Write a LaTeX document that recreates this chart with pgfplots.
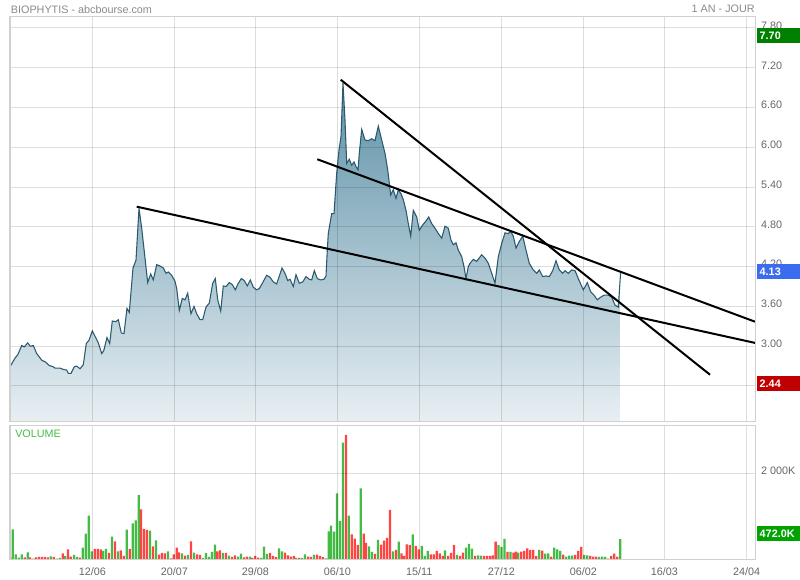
\documentclass[border=0pt]{standalone}
\usepackage{fontspec}
\setmainfont{Liberation Sans}
\usepackage{pgfplots}
\pgfplotsset{compat=1.18}
\usepackage{pgfplotstable}
\definecolor{bordc}{HTML}{D0D0D0}
\definecolor{tickc}{HTML}{666666}
\definecolor{titlec}{HTML}{8A8A8A}
\definecolor{linec}{HTML}{2B5A6F}
\definecolor{filltop}{HTML}{5E92A8}
\definecolor{fillbot}{HTML}{E8EFF3}
\definecolor{volgreen}{HTML}{44BB44}
\definecolor{volred}{HTML}{FF4444}
\definecolor{boxgreen}{HTML}{008000}
\definecolor{boxblue}{HTML}{3B6CF0}
\definecolor{boxred}{HTML}{C00000}
\definecolor{boxvol}{HTML}{00A300}

\pgfplotstableread{
x y
10 2.69
15 2.82
17.7 2.87
21.7 3.01
24.3 2.99
27.7 3.05
30.3 3.00
33.3 3.01
36.7 2.89
41.7 2.79
45.7 2.76
49 2.71
53.3 2.69
55 2.67
60 2.67
63.3 2.65
66.7 2.64
68.3 2.59
71 2.59
74.3 2.69
76.7 2.70
80 2.66
83.3 2.72
86.3 3.04
89 3.09
92.3 3.23
95.7 3.13
98.3 3.05
101.7 2.89
103.7 2.93
107 3.13
109.7 3.04
112.3 3.38
115.7 3.37
118.3 3.40
121.3 3.20
124 3.19
127 3.57
129.3 3.51
133 4.18
136 4.30
139 5.08
141.7 4.78
145 4.33
147.7 3.96
150.7 4.09
153.3 4.00
156.7 4.23
160 4.21
163.3 4.18
166 4.10
168.3 4.12
171.7 4.07
175 3.98
176.7 3.87
179.3 3.54
182.3 3.72
185 3.70
187.7 3.80
191 3.49
194 3.60
196.7 3.49
200 3.40
202.7 3.40
206 3.59
209.3 3.65
212.7 3.95
215.3 4.02
217.7 3.70
220.7 3.53
223.3 3.91
226 3.90
229.3 3.96
232.3 3.93
235.3 3.85
238.3 3.95
241.3 4.02
244.3 3.99
247.3 3.91
250.3 4.00
253.3 3.89
256.7 3.85
259.3 3.87
262.7 3.96
266.7 4.07
270 4.04
273.3 3.97
276.7 3.94
282 4.18
285 4.10
287.7 3.99
290 4.01
293.3 3.90
296 4.08
299.3 3.95
302.7 3.97
306 4.05
309.3 4.01
311.7 4.00
314.3 4.14
317.3 4.02
320.7 4.00
324 4.01
326 4.06
327.3 4.45
328.3 4.70
330 4.85
331.7 5.00
334 5.00
336.7 5.61
339 5.96
341 6.16
343 6.97
345 6.41
346.7 5.76
349.3 5.82
351.7 5.73
354 5.78
356 5.71
358 5.66
359.3 5.91
361.7 6.27
365 6.11
368.3 6.10
371.7 6.13
375 6.10
378.3 6.32
381.7 6.11
385 5.91
387.7 5.66
389.3 5.46
390.7 5.28
393.3 5.36
396 5.23
398.3 5.36
401 5.30
403.3 5.21
406 5.05
408.3 4.85
410.7 4.66
413.3 5.05
416.7 4.95
419.3 4.75
422.7 4.83
426 4.89
428.7 4.95
431.7 4.85
435 4.78
438.3 4.70
441.7 4.63
445 4.81
448.3 4.78
451 4.60
453.3 4.53
456 4.56
458.3 4.45
461.7 4.35
464 4.20
466 4.02
468.3 4.20
470 4.25
473.3 4.31
476.7 4.28
481.7 4.38
485 4.33
488.3 4.25
491.7 4.10
495 3.95
498.3 4.35
501.7 4.55
505 4.71
508.3 4.70
510.7 4.73
513.3 4.66
516 4.48
519.3 4.58
522.7 4.66
526 4.45
529.3 4.25
533.3 4.15
536.7 4.10
539.3 4.15
542.7 4.05
546 4.06
549.3 4.05
552.7 4.14
556 4.29
559.3 4.15
562.7 4.10
565 4.14
568.3 4.10
571.7 4.15
575 4.14
578.3 4.02
583.3 3.85
587.3 3.96
590.7 3.82
594 3.77
597.3 3.70
600.7 3.74
604 3.77
608.3 3.77
611.7 3.74
615 3.62
618.3 3.59
620.7 4.13
}\price

\begin{document}
\begin{tikzpicture}
\path[use as bounding box] (0pt,0pt) rectangle (600pt,-435pt);

\begin{axis}[
  at={(7.5pt,-12.75pt)}, anchor=north west,
  scale only axis, width=558.75pt, height=303.5pt,
  xmin=10, xmax=755, ymin=1.862, ymax=7.966,
  axis line style={draw=bordc, line width=0.75pt},
  xtick={92.3,174.3,255.3,337.3,419.3,501.3,583.3,664.3,746.7},
  xticklabels={},
  ytick={2.4,3.0,3.6,4.2,4.8,5.4,6.0,6.6,7.2,7.8},
  yticklabels={2.40,3.00,3.60,4.20,4.80,5.40,6.00,6.60,7.20,7.80},
  yticklabel pos=right,
  yticklabel style={anchor=west, xshift=1pt, yshift=1.8pt, text=tickc, font=\fontsize{8.1}{9.7}\selectfont},
  major tick length=0pt,
  xmajorgrids, ymajorgrids,
  major grid style={black, opacity=0.13, line width=0.75pt},
  axis on top,
  clip=true,
]
\addplot[draw=none, top color=filltop, bottom color=fillbot] table[x=x,y=y]{\price}
  -- (axis cs:620.7,1.862) -- (axis cs:10,1.862) -- cycle;
\addplot[color=linec, line width=0.8pt] table[x=x,y=y]{\price};
\addplot[black, line width=1.5pt] coordinates {(136.7,5.105) (755,3.05)};
\addplot[black, line width=1.5pt] coordinates {(317.3,5.82) (755,3.37)};
\addplot[black, line width=1.5pt] coordinates {(340.7,7.02) (710,2.57)};
\end{axis}

\begin{axis}[
  at={(7.5pt,-318.975pt)}, anchor=north west,
  scale only axis, width=558.75pt, height=100.5pt,
  xmin=10, xmax=755, ymin=0, ymax=3116,
  axis line style={draw=bordc, line width=0.75pt},
  xtick={92.3,174.3,255.3,337.3,419.3,501.3,583.3,664.3,746.7},
  xticklabels={12/06,20/07,29/08,06/10,15/11,27/12,06/02,16/03,24/04},
  xticklabel style={text=tickc, yshift=-3pt, font=\fontsize{8.1}{9.7}\selectfont},
  ytick={2000},
  yticklabels={2 000K},
  yticklabel pos=right,
  yticklabel style={anchor=west, xshift=1pt, yshift=1.8pt, text=tickc, font=\fontsize{8.1}{9.7}\selectfont},
  major tick length=0pt,
  xmajorgrids, ymajorgrids,
  major grid style={black, opacity=0.13, line width=0.75pt},
  axis on top,
]
\addplot[ybar, bar width=1.75pt, bar shift=0pt, fill=volgreen, draw=none] coordinates {
(12.7,698) (15.7,116) (18.7,39) (21.7,116) (27.7,163) (33,16) (50.7,70) (56.7,16) (59.7,31) (65.3,78) (74,101) (77,54) (82.7,271) (85.7,597) (88.7,1016) (91.7,186) (103,194) (106,240) (112,527) (118,186) (126.7,690) (132.7,837) (135.7,907) (138.7,1495) (150,667) (156,442) (168,186) (182,140) (188,101) (194,155) (203,31) (206,147) (209,54) (212,171) (215,341) (223,147) (229,85) (238,62) (241,132) (250,62) (261.3,31) (264,295) (267,124) (279,256) (282,186) (296.3,31) (302,31) (305,116) (314,101) (326,23) (328.7,651) (331,783) (334,643) (337,1535) (340,891) (343,2713) (348.7,1016) (360.7,1651) (369,302) (372,171) (378,450) (393,186) (398.7,411) (412.7,581) (421.7,310) (424.7,78) (427.7,194) (445,209) (457,101) (466,271) (469,357) (472,248) (478,93) (481,85) (498.5,333) (501.5,287) (504.5,473) (510.5,171) (518.3,155) (539.3,217) (545.3,132) (548.3,140) (554.3,271) (557.3,233) (560.3,194) (566.3,62) (569.3,85) (572.3,85) (584.3,101) (587.3,93) (599.3,54) (602.3,62) (605.3,54) (620.3,472)
};
\addplot[ybar, bar width=1.75pt, bar shift=0pt, fill=volred, draw=none] coordinates {
(10.3,47) (24.7,47) (30,47) (35.7,47) (38.7,54) (41.7,54) (44.7,54) (47.7,47) (53.7,54) (62.7,140) (68,233) (70.7,62) (79.7,39) (94.7,240) (97.7,240) (100.7,233) (109,147) (115,419) (120.7,209) (123.7,78) (129.7,240) (141,1163) (144,705) (147,682) (153,302) (159,109) (162,147) (165,140) (171,23) (173.7,116) (176.7,271) (179,163) (185,85) (191,419) (197,116) (200,101) (217.3,186) (220,209) (226,147) (232,54) (235,93) (244,47) (247,62) (252.3,31) (255.3,78) (258.3,39) (270,147) (273,78) (276,54) (285,155) (288,93) (291,62) (294,78) (299.3,31) (308,62) (311,54) (317,109) (320,78) (323,54) (346,2891) (351.7,581) (354.7,481) (357.7,333) (363.7,597) (366,380) (375,124) (381,341) (384,434) (387,496) (390,1147) (396,217) (401.5,140) (403.9,78) (406.7,349) (409.7,333) (415.7,310) (418.7,233) (430.7,116) (433.7,116) (436.7,194) (439.7,140) (442.7,78) (448,78) (451,147) (454,333) (460,78) (463,155) (475,78) (484,78) (487,78) (490,78) (492.8,93) (495.6,411) (507.5,171) (513.5,155) (516,178) (521.3,178) (524.3,194) (527.3,256) (530.3,217) (533.3,217) (536.3,78) (542.3,202) (551.3,62) (563.3,109) (575.3,101) (578.3,194) (581.3,287) (590.3,78) (593.3,62) (596.3,62) (608.3,16) (611.3,78) (614.3,132) (617.3,62)
};
\end{axis}

% header texts
\node[anchor=west, inner sep=0pt, text=titlec, font=\fontsize{8.1}{9.7}\selectfont] at (8pt,-6.9pt) {BIOPHYTIS - abcbourse.com};
\node[anchor=east, inner sep=0pt, text=titlec, font=\fontsize{8.1}{9.7}\selectfont] at (566.25pt,-6.9pt) {1 AN - JOUR};
\node[anchor=west, inner sep=0pt, text=volgreen, font=\fontsize{8.1}{9.7}\selectfont] at (11.25pt,-325.5pt) {VOLUME};

% value boxes
\fill[boxgreen] (567.75pt,-21.2pt) rectangle (600pt,-32pt);
\node[anchor=west, inner sep=0pt, text=white, font=\bfseries\fontsize{8.1}{9.7}\selectfont] at (569.6pt,-26.6pt) {7.70};
\fill[boxblue] (568pt,-198pt) rectangle (600pt,-209pt);
\node[anchor=west, inner sep=0pt, text=white, font=\bfseries\fontsize{8.1}{9.7}\selectfont] at (569.6pt,-203.5pt) {4.13};
\fill[boxred] (568pt,-282pt) rectangle (600pt,-293pt);
\node[anchor=west, inner sep=0pt, text=white, font=\bfseries\fontsize{8.1}{9.7}\selectfont] at (569.6pt,-287.5pt) {2.44};
\fill[boxvol] (567.75pt,-394.5pt) rectangle (600pt,-405.5pt);
\node[anchor=west, inner sep=0pt, text=white, font=\bfseries\fontsize{8.1}{9.7}\selectfont] at (569.6pt,-400pt) {472.0K};
\end{tikzpicture}
\end{document}
